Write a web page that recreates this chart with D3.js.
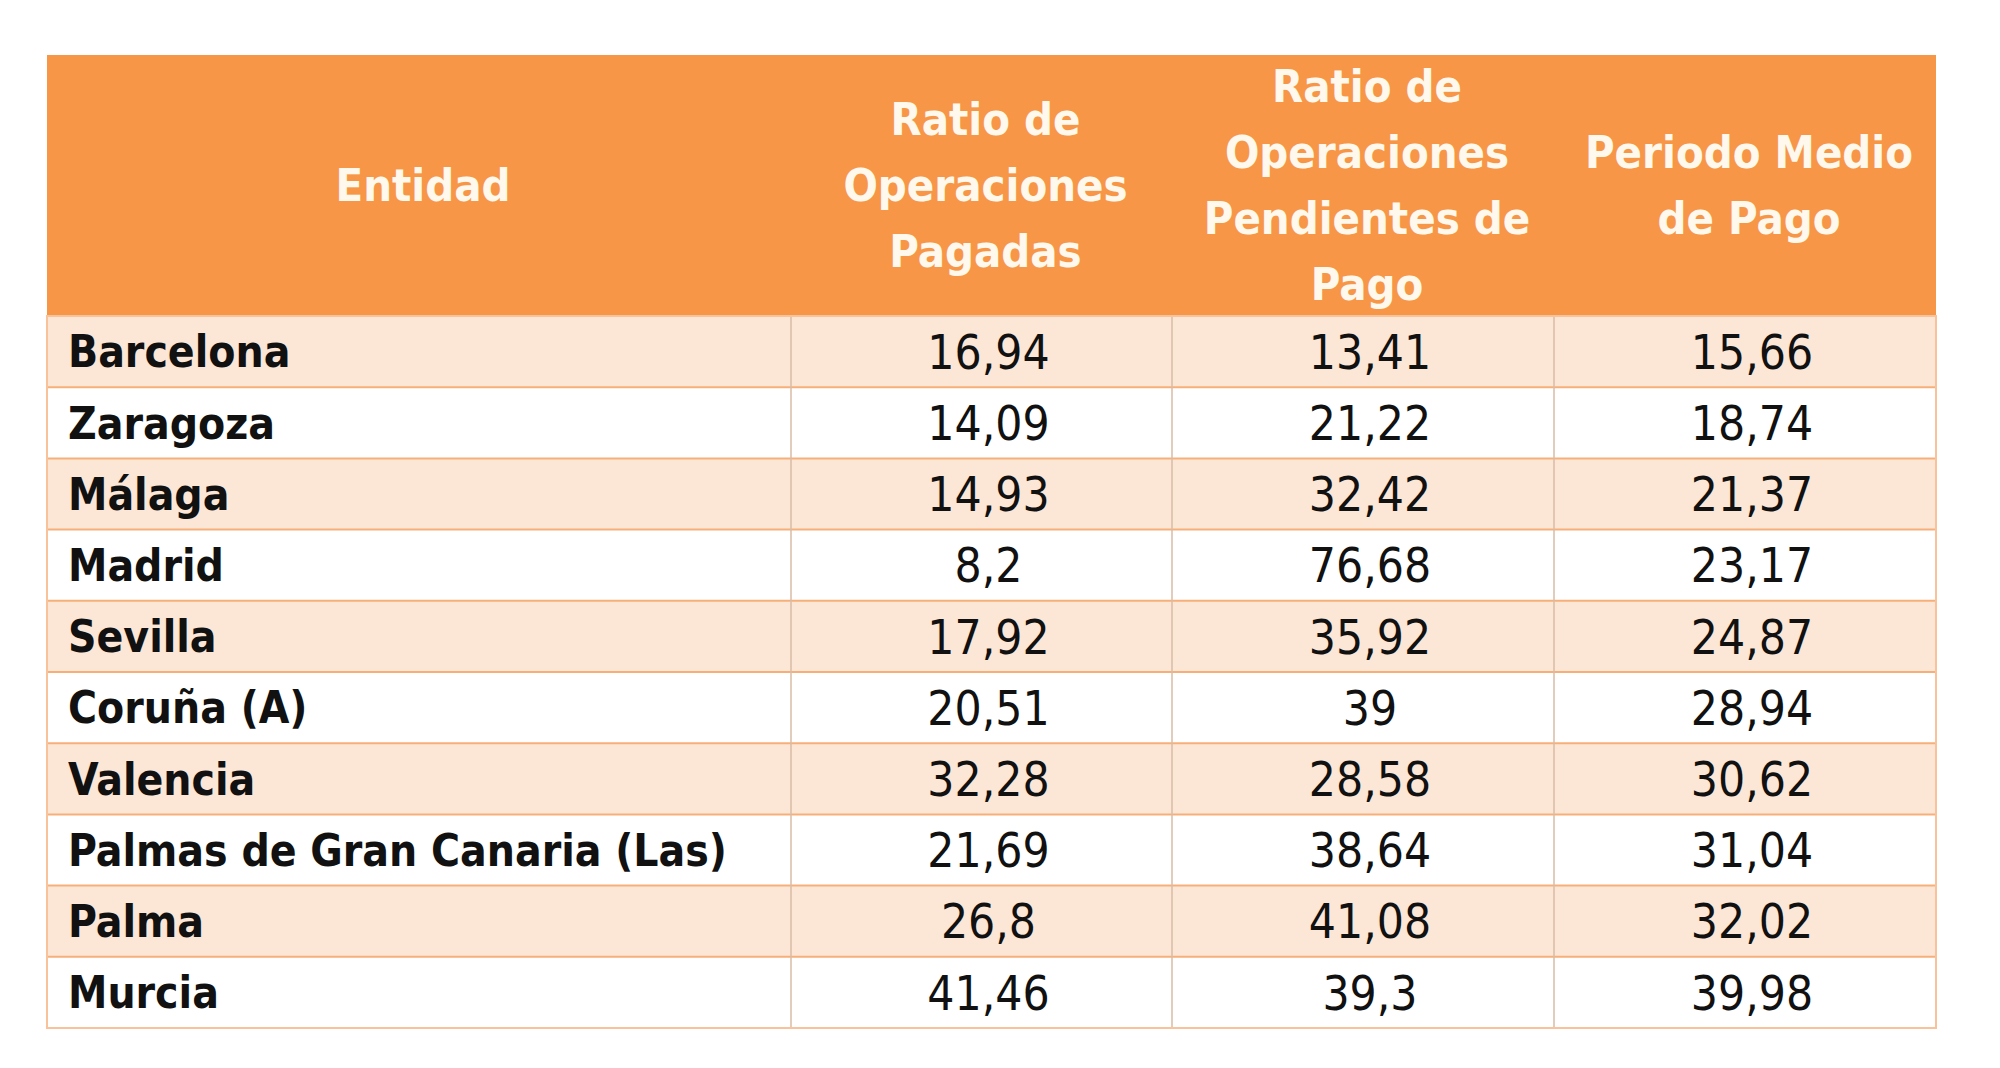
<!DOCTYPE html>
<html>
<head>
<meta charset="utf-8">
<script src="https://cdn.jsdelivr.net/npm/d3@7"></script>
<style>
  html, body { margin: 0; padding: 0; background: #ffffff; }
  svg { display: block; }
</style>
</head>
<body>
<svg id="chart" width="2000" height="1068"></svg>
<script>
// ---- data ----
const headers = [
  ["Entidad"],
  ["Ratio de", "Operaciones", "Pagadas"],
  ["Ratio de", "Operaciones", "Pendientes de", "Pago"],
  ["Periodo Medio", "de Pago"]
];
const entidades = ["Barcelona", "Zaragoza", "Málaga", "Madrid", "Sevilla", "Coruña (A)", "Valencia", "Palmas de Gran Canaria (Las)", "Palma", "Murcia"];
const ratioPagadas = ["16,94", "14,09", "14,93", "8,2", "17,92", "20,51", "32,28", "21,69", "26,8", "41,46"];
const ratioPendientes = ["13,41", "21,22", "32,42", "76,68", "35,92", "39", "28,58", "38,64", "41,08", "39,3"];
const periodoMedio = ["15,66", "18,74", "21,37", "23,17", "24,87", "28,94", "30,62", "31,04", "32,02", "39,98"];

// ---- layout ----
const svg = d3.select("#chart");
const L = 47, R = 1936, T = 55, HB = 316, B = 1028;
const colEdges = [L, 791, 1172, 1554, R];
const font = "'Liberation Sans Narrow', 'DejaVu Sans Condensed', 'Arial Narrow', sans-serif";

const y = d3.scaleBand().domain(d3.range(entidades.length)).range([HB, B]).padding(0);
const colX = i => colEdges[i];
const colW = i => colEdges[i + 1] - colEdges[i];

// header background
svg.append("rect").attr("x", L).attr("y", T).attr("width", R - L).attr("height", HB - T)
  .attr("fill", "#F79646");

// header text
const lineH = 66;
const headerCenter = (T + HB) / 2;
headers.forEach((lines, i) => {
  const cx = colX(i) + colW(i) / 2 + 4;
  const t = svg.append("text").attr("text-anchor", "middle")
    .attr("font-family", font).attr("font-weight", "bold").attr("font-size", 45)
    .attr("fill", "#FFF8EC");
  lines.forEach((ln, k) => {
    t.append("tspan").attr("x", cx)
      .attr("y", headerCenter + (k - (lines.length - 1) / 2) * lineH)
      .attr("dy", "0.35em").text(ln);
  });
});

// body rows
const rows = entidades.map((e, i) => [e, ratioPagadas[i], ratioPendientes[i], periodoMedio[i]]);
const g = svg.append("g");
g.selectAll("rect.row").data(rows).join("rect")
  .attr("class", "row")
  .attr("x", L).attr("y", (d, i) => y(i))
  .attr("width", R - L).attr("height", y.bandwidth())
  .attr("fill", (d, i) => i % 2 === 0 ? "#FCE6D6" : "#FFFFFF");

// horizontal lines
g.selectAll("line.h").data(d3.range(1, rows.length)).join("line")
  .attr("x1", L).attr("x2", R)
  .attr("y1", i => y(i)).attr("y2", i => y(i))
  .attr("stroke", "#F7AF7A").attr("stroke-width", 2);

// vertical lines in body
g.selectAll("line.v").data([1, 2, 3]).join("line")
  .attr("x1", i => colEdges[i]).attr("x2", i => colEdges[i])
  .attr("y1", HB).attr("y2", B)
  .attr("stroke", "#D9BCA6").attr("stroke-width", 1.5);

// outer border of body
g.append("rect").attr("x", L).attr("y", HB).attr("width", R - L).attr("height", B - HB)
  .attr("fill", "none").attr("stroke", "#F9C29B").attr("stroke-width", 2);

// cell text
rows.forEach((r, i) => {
  const cy = y(i) + y.bandwidth() / 2;
  r.forEach((val, c) => {
    const t = g.append("text").attr("font-family", font)
      .attr("fill", "#111111").attr("y", cy).attr("dy", "0.36em").text(val);
    if (c === 0) {
      t.attr("x", colX(0) + 21).attr("font-weight", "bold").attr("font-size", 44);
    } else {
      t.attr("x", colX(c) + colW(c) / 2 + 7).attr("text-anchor", "middle").attr("font-size", 47.5);
    }
  });
});
</script>
</body>
</html>
